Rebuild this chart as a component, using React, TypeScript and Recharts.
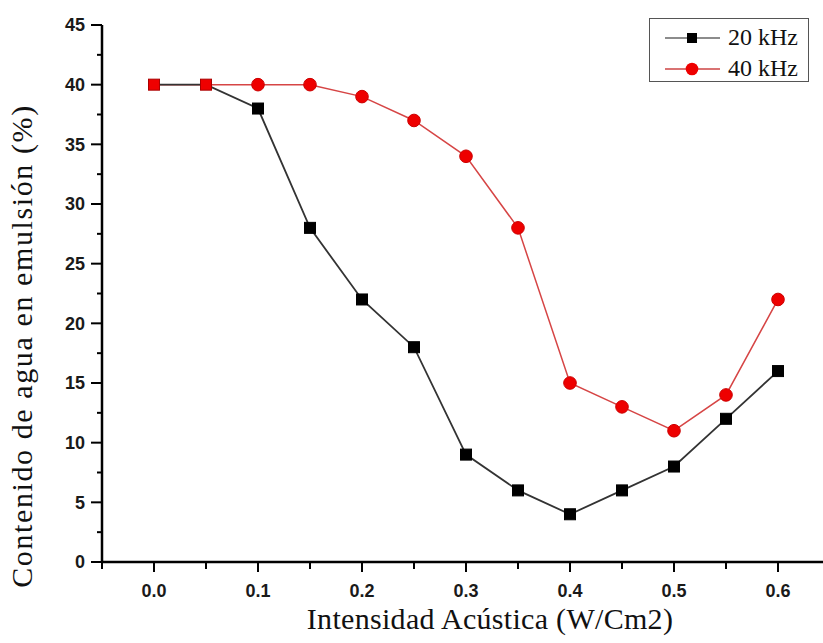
import { LineChart, Line, XAxis, YAxis } from 'recharts'

const intensity = [0.0, 0.05, 0.1, 0.15, 0.2, 0.25, 0.3, 0.35, 0.4, 0.45, 0.5, 0.55, 0.6]
const water20 = [40, 40, 38, 28, 22, 18, 9, 6, 4, 6, 8, 12, 16]
const water40 = [40, 40, 40, 40, 39, 37, 34, 28, 15, 13, 11, 14, 22]

const xTicks = [-0.05, 0, 0.05, 0.1, 0.15, 0.2, 0.25, 0.3, 0.35, 0.4, 0.45, 0.5, 0.55, 0.6, 0.65]
const yTicks = [0, 2.5, 5, 7.5, 10, 12.5, 15, 17.5, 20, 22.5, 25, 27.5, 30, 32.5, 35, 37.5, 40, 42.5, 45]

const data = intensity.map((x, i) => ({ x, s20: water20[i], s40: water40[i] }))

const sans = '"Liberation Sans", Arial, sans-serif'
const serif = '"Liberation Serif", "Times New Roman", serif'

const XTick = (props: any) => {
  const { x, y, payload } = props
  const v = payload.value
  const major = Math.abs(v * 10 - Math.round(v * 10)) < 1e-6
  return (
    <g>
      <line x1={x} x2={x} y1={y} y2={y + (major ? 10 : 7)} stroke="#000" strokeWidth={2} />
      {major && (
        <text x={x} y={y + 35} textAnchor="middle" fontFamily={sans} fontSize={18} fontWeight="bold" fill="#1a1a1a">
          {v.toFixed(1)}
        </text>
      )}
    </g>
  )
}

const YTick = (props: any) => {
  const { x, y, payload } = props
  const v = payload.value
  const major = v % 5 === 0
  return (
    <g>
      <line x1={x - (major ? 11 : 5)} x2={x} y1={y} y2={y} stroke="#000" strokeWidth={2} />
      {major && (
        <text x={x - 17} y={y} dy="0.36em" textAnchor="end" fontFamily={sans} fontSize={18} fontWeight="bold" fill="#1a1a1a">
          {v}
        </text>
      )}
    </g>
  )
}

// 20 kHz squares; where the 40 kHz point sits on top they show red
const SquareDot = (props: any) => {
  const { cx, cy, payload } = props
  const over = payload.s20 === payload.s40
  return (
    <rect
      x={cx - 5.5}
      y={cy - 5.5}
      width={11}
      height={11}
      fill={over ? '#ee0000' : '#000'}
      stroke={over ? '#a00' : '#000'}
      strokeWidth={1}
    />
  )
}

const CircleDot = (props: any) => {
  const { cx, cy, payload } = props
  if (payload.s20 === payload.s40) return <g />
  return <circle cx={cx} cy={cy} r={6.3} fill="#ee0000" stroke="#c00" strokeWidth={1} />
}

export default function App() {
  return (
    <div style={{ position: 'absolute', left: 0, top: 0, width: 823, height: 643, overflow: 'hidden', background: '#fff' }}>
      <LineChart width={840} height={643} data={data} margin={{ top: 25, right: 10, left: 0, bottom: 21 }}>
        <XAxis
          dataKey="x"
          type="number"
          domain={[-0.05, 0.65]}
          ticks={xTicks}
          interval={0}
          height={60}
          tickSize={0}
          tickMargin={0}
          tickLine={false}
          tick={<XTick />}
          axisLine={{ stroke: '#000', strokeWidth: 2.5 }}
        />
        <YAxis
          type="number"
          domain={[0, 45]}
          ticks={yTicks}
          interval={0}
          width={102}
          tickSize={0}
          tickMargin={0}
          tickLine={false}
          tick={<YTick />}
          axisLine={{ stroke: '#000', strokeWidth: 2.5 }}
        />
        <Line
          type="linear"
          dataKey="s40"
          stroke="#d64545"
          strokeWidth={1.5}
          dot={<CircleDot />}
          isAnimationActive={false}
        />
        <Line
          type="linear"
          dataKey="s20"
          stroke="#333"
          strokeWidth={1.8}
          dot={<SquareDot />}
          isAnimationActive={false}
        />
      </LineChart>
      <div
        style={{
          position: 'absolute',
          left: 490,
          top: 601,
          transform: 'translateX(-50%)',
          fontFamily: serif,
          fontSize: 30,
          letterSpacing: 0.3,
          whiteSpace: 'nowrap',
          color: '#111',
          lineHeight: '36px',
        }}
      >
        Intensidad Acústica (W/Cm2)
      </div>
      <div
        style={{
          position: 'absolute',
          left: 22,
          top: 346,
          transform: 'translate(-50%, -50%) rotate(-90deg)',
          fontFamily: serif,
          fontSize: 30,
          letterSpacing: 1.6,
          whiteSpace: 'nowrap',
          color: '#111',
          lineHeight: '36px',
        }}
      >
        Contenido de agua en emulsión (%)
      </div>
      <div
        style={{
          position: 'absolute',
          left: 649,
          top: 18,
          width: 160,
          height: 64,
          border: '1px solid #555',
          boxSizing: 'border-box',
          background: '#fff',
          fontFamily: serif,
          fontSize: 24,
          color: '#111',
        }}
      >
        <svg width={70} height={64} style={{ position: 'absolute', left: 0, top: 0 }}>
          <line x1={15} x2={72} y1={19} y2={19} stroke="#666" strokeWidth={1.5} />
          <rect x={37} y={14} width={10} height={10} fill="#000" />
          <line x1={15} x2={72} y1={50} y2={50} stroke="#c44" strokeWidth={1.5} />
          <circle cx={42} cy={50} r={6.3} fill="#ee0000" />
        </svg>
        <div style={{ position: 'absolute', left: 78, top: 4, lineHeight: '28px', whiteSpace: 'nowrap' }}>20 kHz</div>
        <div style={{ position: 'absolute', left: 78, top: 35, lineHeight: '28px', whiteSpace: 'nowrap' }}>40 kHz</div>
      </div>
    </div>
  )
}
